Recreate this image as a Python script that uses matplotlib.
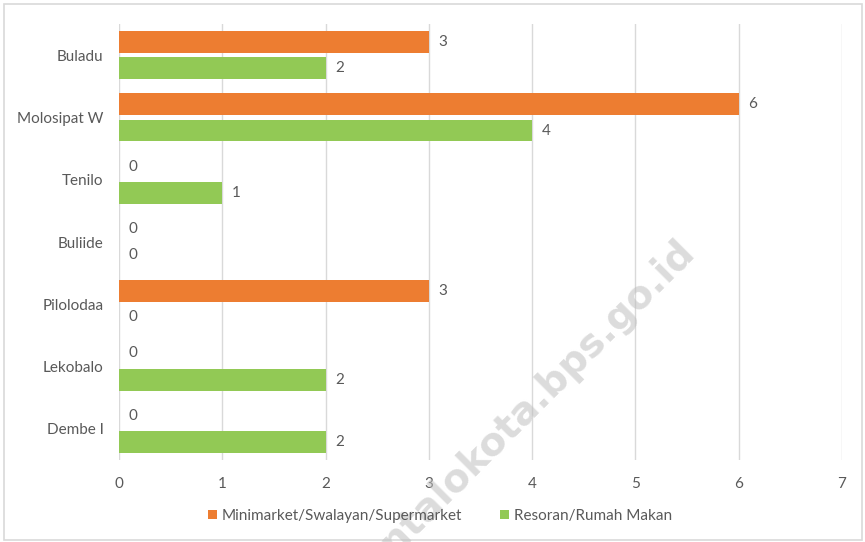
import numpy as np
import matplotlib
matplotlib.use("Agg")
import matplotlib.pyplot as plt
from matplotlib.patches import Rectangle

desa = ["Buladu", "Molosipat W", "Tenilo", "Buliide", "Pilolodaa", "Lekobalo", "Dembe I"]
minimarket = [3, 6, 0, 0, 3, 0, 0]
restoran = [2, 4, 1, 0, 0, 2, 2]
seri = ["Minimarket/Swalayan/Supermarket", "Resoran/Rumah Makan"]

plt.rcParams['font.family'] = ['Lato', 'DejaVu Sans']
abu = "#595959"
fs = 11

fig = plt.figure(figsize=(8.65, 5.42), dpi=100)
ax = fig.add_axes([119 / 865, 1 - 460 / 542, (842 - 119) / 865, (460 - 24) / 542])

y = np.arange(len(desa))
h = 0.35
b1 = ax.barh(y - 0.21, minimarket, height=h, color="#ED7D31", label=seri[0], zorder=2)
b2 = ax.barh(y + 0.21, restoran, height=h, color="#92C955", label=seri[1], zorder=2)

for bars in (b1, b2):
    for r in bars:
        w = r.get_width()
        ax.annotate(str(int(w)), (w, r.get_y() + r.get_height() / 2), xytext=(7, 0),
                    textcoords="offset points", va="center", ha="left", fontsize=fs, color=abu)

ax.set_ylim(len(desa) - 0.5, -0.5)
ax.set_xlim(0, 7)
ax.set_xticks(range(8))
ax.set_yticks(y)
ax.set_yticklabels(desa)
ax.tick_params(axis="both", length=0, labelsize=fs, labelcolor=abu)
ax.tick_params(axis="y", pad=11)
ax.tick_params(axis="x", pad=12)
ax.grid(axis="x", color="#D9D9D9", linewidth=1, zorder=0)
for s in ax.spines.values():
    s.set_visible(False)

leg = fig.legend(handles=[b1, b2], loc="center", bbox_to_anchor=(440 / 865, 1 - 516 / 542), ncol=2,
                 frameon=False, fontsize=fs, handlelength=0.6, handleheight=0.6,
                 handletextpad=0.3, columnspacing=2.5)
for t in leg.get_texts():
    t.set_color(abu)

# watermark, cut off at the bottom edge as in the source
fig.text(502 / 865, 1 - 433 / 542, "gorontalokota.bps.go.id", rotation=45, ha="center", va="center",
         fontsize=28, fontweight="bold", color="#BFBFBF", alpha=0.55, family="DejaVu Sans",
         rotation_mode="anchor", zorder=5)

fig.patches.append(Rectangle((4 / 865, 2 / 542), 858 / 865, 536 / 542, transform=fig.transFigure,
                             fill=False, edgecolor="#D9D9D9", linewidth=1.2))

fig.savefig("out.png", dpi=100)
